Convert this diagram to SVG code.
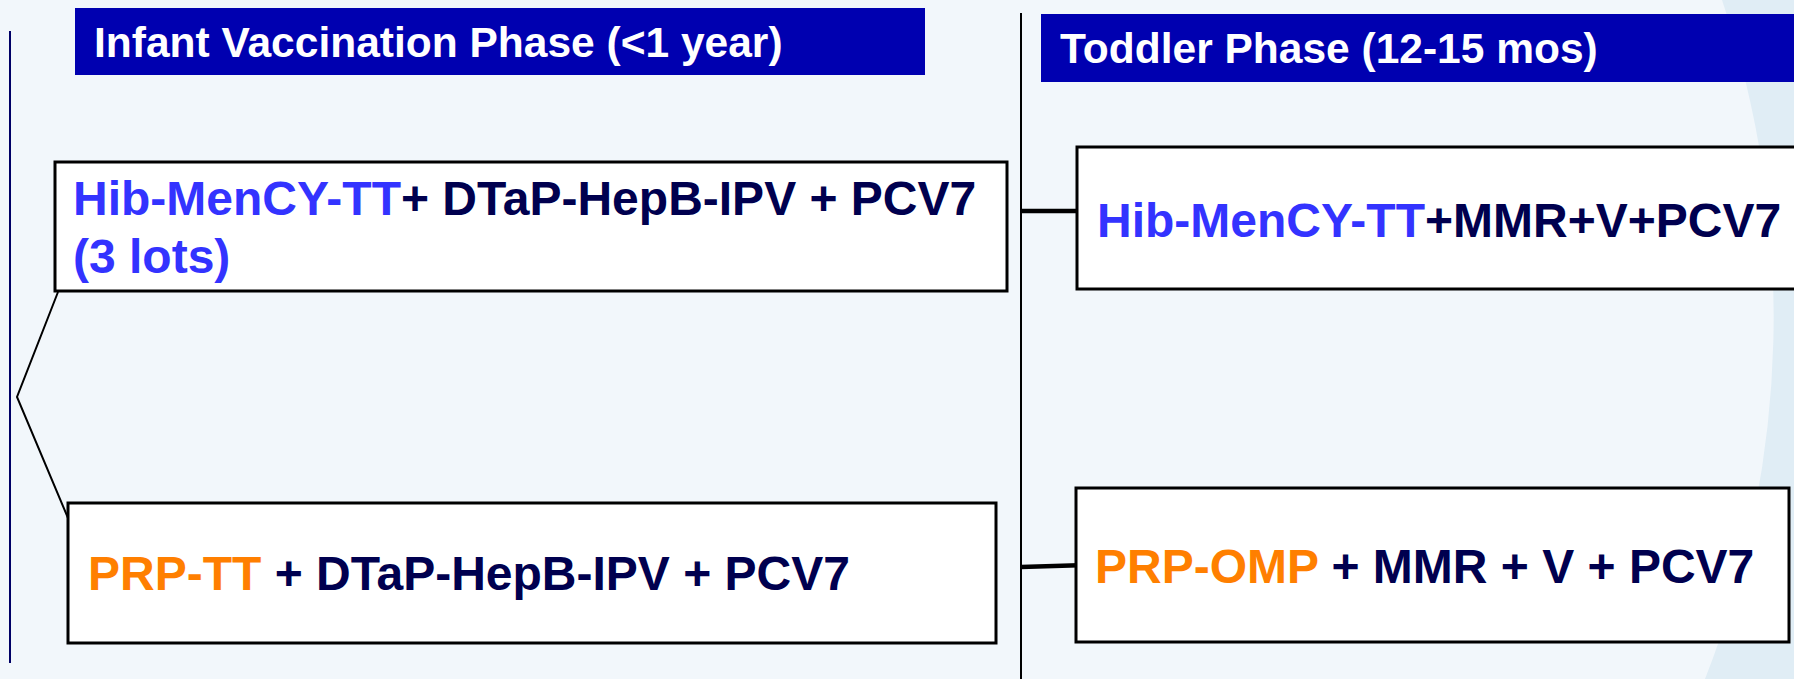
<svg xmlns="http://www.w3.org/2000/svg" width="1794" height="679" viewBox="0 0 1794 679">
  <style>
    text { font-family: "Liberation Sans", Arial, sans-serif; font-weight: bold; }
    .hdr { fill: #0000b0; }
    .hdrtxt { fill: #ffffff; font-size: 42.5px; }
    .box { fill: #ffffff; stroke: #000000; stroke-width: 3; }
    .lbl { font-size: 48px; fill: #00004f; }
    .blue { fill: #3333ff; }
    .orange { fill: #ff7f00; }
    .thin { stroke: #000000; stroke-width: 2; fill: none; }
    .thick { stroke: #000000; stroke-width: 4.5; fill: none; }
  </style>
  <rect x="0" y="0" width="1794" height="679" fill="#f2f7fb"/>
  <path d="M 1722 0 A 993 993 0 0 1 1705 679 L 1794 679 L 1794 0 Z" fill="#e0edf5"/>

  <g id="timeline">
    <line x1="10" y1="31" x2="10" y2="663" stroke="#000066" stroke-width="2"/>
    <line x1="1021" y1="13" x2="1021" y2="679" stroke="#000000" stroke-width="2"/>
  </g>

  <g id="header-infant">
    <rect class="hdr" x="75" y="8" width="850" height="67"/>
    <text class="hdrtxt" x="94" y="57">Infant Vaccination Phase (&lt;1 year)</text>
  </g>
  <g id="header-toddler">
    <rect class="hdr" x="1041" y="14" width="753" height="68"/>
    <text class="hdrtxt" x="1060" y="63">Toddler Phase (12-15 mos)</text>
  </g>

  <g id="connectors">
    <polyline class="thin" points="58,292 17,397 68,518"/>
    <line class="thick" x1="1021" y1="211" x2="1078" y2="211"/>
    <line class="thick" x1="1021" y1="567" x2="1087" y2="565"/>
  </g>

  <g id="node-infant-hib">
    <rect class="box" x="55" y="162" width="952" height="129"/>
    <text class="lbl" x="73" y="215"><tspan class="blue">Hib-MenCY-TT</tspan>+ DTaP-HepB-IPV + PCV7</text>
    <text class="lbl blue" x="73" y="273">(3 lots)</text>
  </g>
  <g id="node-infant-prp">
    <rect class="box" x="68" y="503" width="928" height="140"/>
    <text class="lbl" x="88" y="590"><tspan class="orange">PRP-TT</tspan> + DTaP-HepB-IPV + PCV7</text>
  </g>
  <g id="node-toddler-hib">
    <rect class="box" x="1077" y="147" width="730" height="142"/>
    <text class="lbl" x="1097" y="237"><tspan class="blue">Hib-MenCY-TT</tspan>+MMR+V+PCV7</text>
  </g>
  <g id="node-toddler-prp">
    <rect class="box" x="1076" y="488" width="713" height="154"/>
    <text class="lbl" x="1095" y="583"><tspan class="orange">PRP-OMP</tspan> + MMR + V + PCV7</text>
  </g>
</svg>
